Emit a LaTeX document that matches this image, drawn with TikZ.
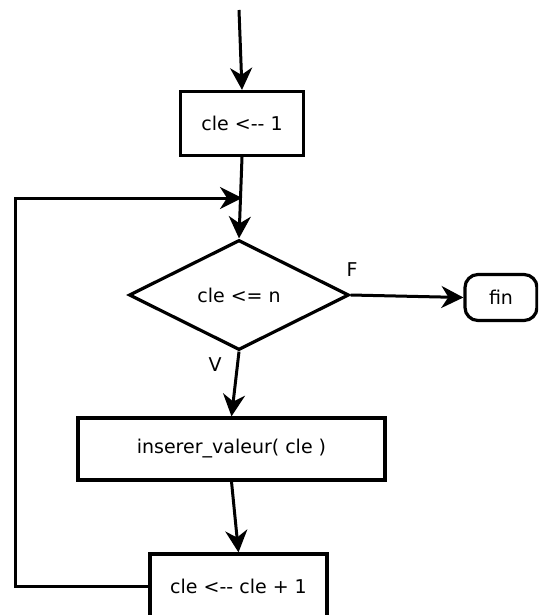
\documentclass[tikz,border=0pt]{standalone}
\usepackage{fontspec}
\setmainfont{DejaVu Sans}
\usetikzlibrary{shapes.geometric,arrows.meta}
\tikzset{
  txt/.style={font=\fontsize{19}{22}\selectfont},
  flow/.style={line width=3pt, -{Stealth[length=22pt,width=22pt,inset=7pt]}},
  stepbox/.style={draw, line width=3.2pt, rectangle, inner sep=0pt, txt},
  test/.style={draw, line width=3.2pt, diamond, aspect=2, inner sep=0pt, minimum width=220pt, minimum height=110pt, txt},
  term/.style={draw, line width=3.2pt, rounded corners=13pt, inner sep=0pt, minimum width=72pt, minimum height=46pt, txt},
  lbl/.style={txt}
}
\begin{document}
\begin{tikzpicture}[x=1pt,y=-1pt]
\useasboundingbox (0,0) rectangle (538,615);
\clip (0,0) rectangle (538,615);
\coordinate (start) at (239,10);
\node[stepbox, minimum width=123pt, minimum height=64pt] (init) at (242,123.5) {cle <{-}{-} 1};
\node[test] (cond) at (239,295) {cle <= n};
\node[term] (fin) at (501,297.5) {fin};
\node[stepbox, minimum width=307pt, minimum height=62pt] (body) at (231.5,449) {inserer\_valeur( cle )};
\node[stepbox, minimum width=177pt, minimum height=64pt] (incr) at (238.5,586) {cle <{-}{-} cle + 1};
\coordinate (join) at (init.south |- 0,198);
\coordinate (back) at (15,198);

\draw[flow] (start) -- (init.north);
\draw[flow] (init.south) -- (cond.north);
\draw[flow] (cond.east) -- (fin.west);
\draw[flow] (cond.south) -- (body.north);
\draw[flow] (body.south) -- (incr.north);
\draw[flow] (incr.west) -| (back) -- (join);

\node[lbl] (flabel) at (352,270) {F};
\node[lbl] (vlabel) at (215,365) {V};
\end{tikzpicture}
\end{document}
